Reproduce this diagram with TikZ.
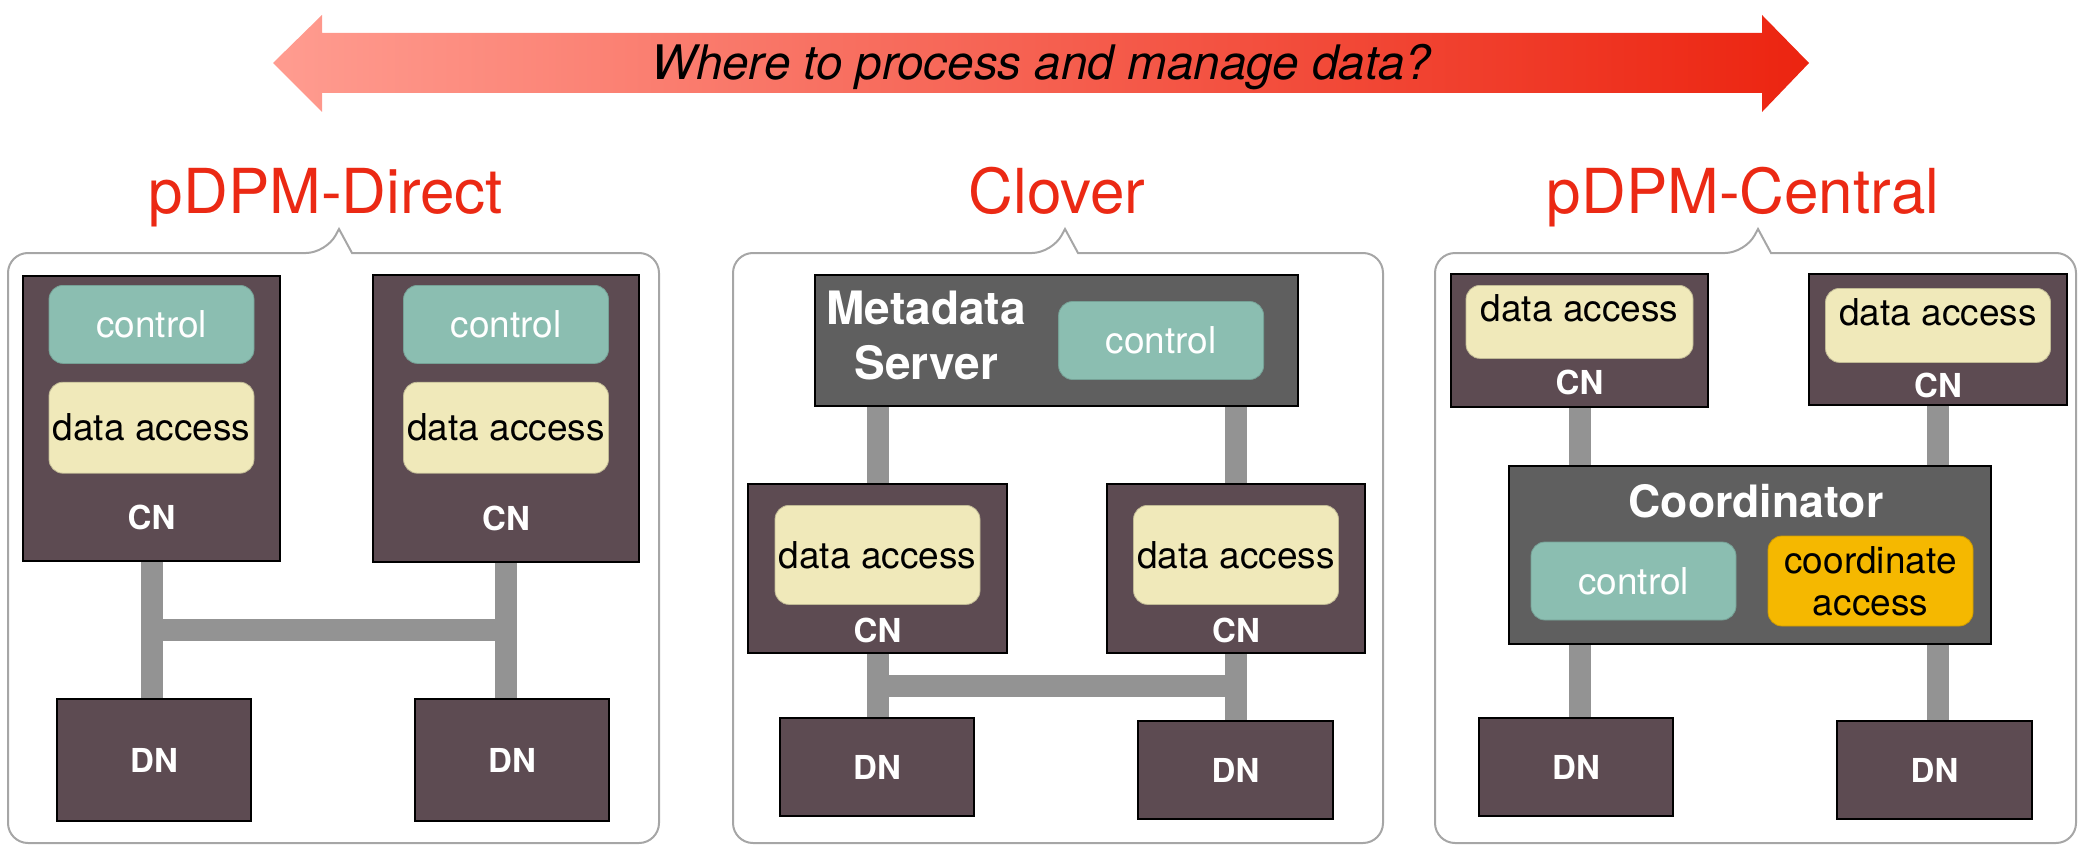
\documentclass[tikz,border=0pt]{standalone}
\usepackage{fontspec}
\setmainfont{TeX Gyre Heros}
\usepackage{xcolor}
\definecolor{nodebrown}{HTML}{5D4B52}
\definecolor{srvgray}{HTML}{5F5F5F}
\definecolor{ctrlgreen}{HTML}{8BBEB1}
\definecolor{datayellow}{HTML}{F0E9BA}
\definecolor{coordyellow}{HTML}{F5B800}
\definecolor{titlered}{HTML}{EB2914}
\definecolor{arrowlight}{HTML}{FF9C90}
\definecolor{arrowred}{HTML}{EC2410}
\definecolor{busgray}{HTML}{939393}
\definecolor{panelgray}{HTML}{A6A6A6}
\usepackage{tikz}
\usetikzlibrary{positioning,backgrounds,calc}
\tikzset{
  cnbox/.style ={rectangle, draw=black, line width=1pt, fill=nodebrown, inner sep=0pt},
  dnbox/.style ={cnbox, text=white, font=\fontsize{16.5}{19}\selectfont\bfseries},
  srvbox/.style={cnbox, fill=srvgray},
  ctlbox/.style={rectangle, rounded corners=7pt, draw=ctrlgreen!85!black, line width=0.4pt,
                 fill=ctrlgreen, text=white, minimum width=102.5pt, minimum height=39pt,
                 inner sep=0pt, font=\fontsize{18.5}{21}\selectfont},
  dabox/.style ={ctlbox, draw=datayellow!80!black, fill=datayellow, text=black},
  datop/.style ={dabox, text height=10pt, text depth=10pt},
  cabox/.style ={dabox, draw=coordyellow!85!black, fill=coordyellow, align=center},
  nlbl/.style  ={text=white, inner sep=0pt, font=\fontsize{16.5}{19}\selectfont\bfseries},
  slbl/.style  ={text=white, inner sep=0pt, align=center, font=\fontsize{23}{27.5}\selectfont\bfseries},
  ttl/.style   ={text=titlered, anchor=base, inner sep=0pt, font=\fontsize{31}{36}\selectfont},
  bus/.style   ={draw=busgray, line width=11pt},
  panel/.style ={draw=panelgray, line width=1pt},
}

\begin{document}
\begin{tikzpicture}[x=0.5pt, y=-0.5pt]
  \useasboundingbox (0,0) rectangle (2092,856);

  % question arrow
  \shade[left color=arrowlight, right color=arrowred]
    (273,63) -- (322,15) -- (322,33) -- (1762,33) -- (1762,15) -- (1809,63)
    -- (1762,112) -- (1762,93) -- (322,93) -- (322,112) -- cycle;
  \node[anchor=base, inner sep=0pt, font=\fontsize{23.8}{28}\selectfont\itshape] (question)
    at (1041,80) {Where to process and manage data?};

  % callout panels
  \foreach \l/\r/\p in {8/659/339, 733/1383/1065, 1435/2076/1758} {
    \draw[panel] (\l,548) [rounded corners=10pt] -- (\l,253) -- (\p-13,253) [sharp corners]
      -- (\p,229) -- (\p+13,253) [rounded corners=10pt] -- (\r,253) -- (\r,843) -- (\l,843) -- cycle;
  }
  \node[ttl] (tdirect)  at (326,213)  {pDPM-Direct};
  \node[ttl] (tclover)  at (1057,213) {Clover};
  \node[ttl] (tcentral) at (1743,213) {pDPM-Central};

  % pDPM-Direct
  \node[cnbox, minimum width=128.5pt, minimum height=142.5pt] (cn1) at (151.5,418.5) {};
  \node[ctlbox, below=5pt of cn1.north] (ctl1) {control};
  \node[dabox, minimum height=45.5pt, below=9pt of ctl1] (da1) {data access};
  \node[nlbl, above=16pt of cn1.south] (cn1lbl) {CN};
  \node[cnbox, minimum width=133pt, minimum height=143.5pt] (cn2) at (506,418.5) {};
  \node[ctlbox, below=5.5pt of cn2.north] (ctl2) {control};
  \node[dabox, minimum height=45.5pt, below=9pt of ctl2] (da2) {data access};
  \node[nlbl, above=16pt of cn2.south] (cn2lbl) {CN};
  \node[dnbox, minimum width=97pt, minimum height=61pt] (dn1) at (154,760) {DN};
  \node[dnbox, minimum width=97pt, minimum height=61pt] (dn2) at (512,760) {DN};

  % Clover
  \node[srvbox, minimum width=241.5pt, minimum height=65.5pt] (ms) at (1056.5,340.5) {};
  \node[slbl, right=6pt of ms.west, yshift=2.5pt] (mslbl) {Metadata\\Server};
  \node[ctlbox, left=17.5pt of ms.east] (ctl3) {control};
  \node[cnbox, minimum width=129.5pt, minimum height=84.5pt] (cn3) at (877.5,568.5) {};
  \node[dabox, minimum height=49.5pt, below=11pt of cn3.north] (da3) {data access};
  \node[nlbl, above=5.5pt of cn3.south] (cn3lbl) {CN};
  \node[cnbox, minimum width=129pt, minimum height=84.5pt] (cn4) at (1236,568.5) {};
  \node[dabox, minimum height=49.5pt, below=11pt of cn4.north] (da4) {data access};
  \node[nlbl, above=5.5pt of cn4.south] (cn4lbl) {CN};
  \node[dnbox, minimum width=97pt, minimum height=49pt] (dn3) at (877,767) {DN};
  \node[dnbox, minimum width=97.5pt, minimum height=49pt] (dn4) at (1235.5,770) {DN};

  % pDPM-Central
  \node[cnbox, minimum width=128.5pt, minimum height=66.5pt] (cn5) at (1579.5,340.5) {};
  \node[datop, minimum width=113.5pt, minimum height=36.5pt, below=6pt of cn5.north] (da5) {data access};
  \node[nlbl, above=6.5pt of cn5.south] (cn5lbl) {CN};
  \node[cnbox, minimum width=129pt, minimum height=65.5pt] (cn6) at (1938,339.5) {};
  \node[datop, minimum width=112.5pt, minimum height=37pt, below=7.5pt of cn6.north] (da6) {data access};
  \node[nlbl, above=4pt of cn6.south] (cn6lbl) {CN};
  \node[srvbox, minimum width=241pt, minimum height=89pt] (coord) at (1750,555) {};
  \node[slbl, font=\fontsize{22.3}{26}\selectfont\bfseries, below=9.5pt of coord.north, xshift=3pt] (coordlbl) {Coordinator};
  \node[ctlbox] (ctl5) at (1633.5,581) {control};
  \node[cabox, minimum height=45pt] (ca) at (1870.5,581) {coordinate\\access};
  \node[dnbox, minimum width=97pt, minimum height=49pt] (dn5) at (1576,767) {DN};
  \node[dnbox, minimum width=97.5pt, minimum height=49pt] (dn6) at (1934.5,770) {DN};

  % links
  \begin{scope}[on background layer]
    \draw[bus] (cn1) -- (cn1 |- dn1);
    \draw[bus] (cn2) -- (cn2 |- dn2);
    \draw[bus] ($(cn1.south)!.5!(cn1.south |- dn1.north)$) coordinate (h1) -- (h1 -| cn2);
    \draw[bus] (ms.center -| cn3) -- (cn3);
    \draw[bus] (ms.center -| cn4) -- (cn4);
    \draw[bus] (cn3) -- (cn3 |- dn3);
    \draw[bus] (cn4) -- (cn4 |- dn4);
    \draw[bus] ($(cn3.south)!.5!(cn3.south |- dn3.north)$) coordinate (h3) -- (h3 -| cn4);
    \draw[bus] (cn5) -- (cn5 |- dn5);
    \draw[bus] (cn6) -- (cn6 |- dn6);
  \end{scope}
\end{tikzpicture}
\end{document}
